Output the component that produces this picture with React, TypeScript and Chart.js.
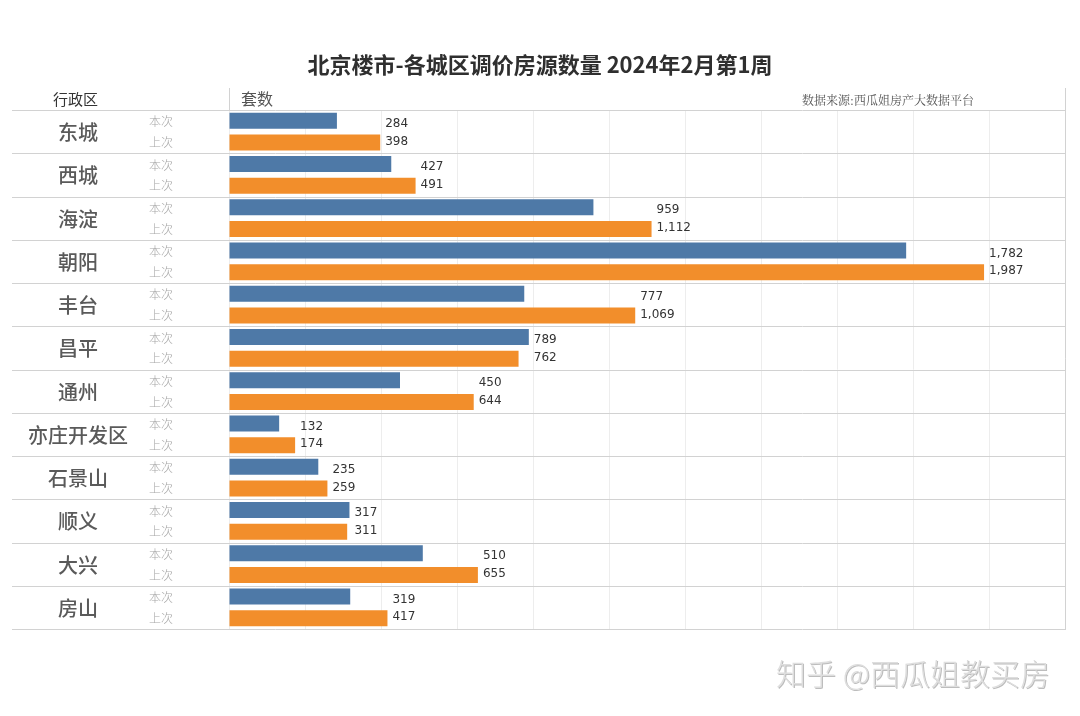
import React, { useEffect, useRef } from "react";
import { Chart, registerables } from "chart.js";

Chart.register(...registerables);

const districts = ["东城", "西城", "海淀", "朝阳", "丰台", "昌平", "通州", "亦庄开发区", "石景山", "顺义", "大兴", "房山"];
const currentWeek = [284, 427, 959, 1782, 777, 789, 450, 132, 235, 317, 510, 319];
const previousWeek = [398, 491, 1112, 1987, 1069, 762, 644, 174, 259, 311, 655, 417];
const seriesNames = ["本次", "上次"];
const titleText = "北京楼市-各城区调价房源数量 2024年2月第1周";
const headerLeft = "行政区";
const headerMeasure = "套数";
const sourceText = "数据来源:西瓜姐房产大数据平台";
const watermarkText = "知乎 @西瓜姐教买房";

const CJK = "'Noto Sans CJK SC', 'Noto Sans', sans-serif";

const decorPlugin = {
  id: "decor",
  afterDraw(chart: any) {
    const ctx = chart.ctx as CanvasRenderingContext2D;
    const area = chart.chartArea;
    const n = districts.length;
    const rowH = (area.bottom - area.top) / n;
    const leftEdge = 12;
    const rightEdge = area.right;
    const headerTop = area.top - 22;

    ctx.save();
    // title
    ctx.fillStyle = "#2f2f2f";
    ctx.font = `bold 22px ${CJK}`;
    ctx.textAlign = "center";
    ctx.textBaseline = "middle";
    ctx.fillText(titleText, 540, 65);

    // header
    ctx.fillStyle = "#333";
    ctx.font = `15px ${CJK}`;
    ctx.textAlign = "left";
    ctx.fillText(headerLeft, 53, 99);
    ctx.fillStyle = "#555";
    ctx.font = `16px ${CJK}`;
    ctx.fillText(headerMeasure, 241, 99);
    ctx.fillStyle = "#555";
    ctx.font = `12px 'Noto Serif CJK SC', ${CJK}`;
    ctx.textAlign = "right";
    ctx.fillText(sourceText, 974, 100);

    // lines
    ctx.strokeStyle = "#d2d2d2";
    ctx.lineWidth = 1;
    for (let i = 0; i <= n; i++) {
      const y = Math.round(area.top + i * rowH) + 0.5;
      ctx.beginPath();
      ctx.moveTo(leftEdge, y);
      ctx.lineTo(rightEdge + 1, y);
      ctx.stroke();
    }
    ctx.beginPath();
    ctx.moveTo(Math.round(area.left) + 0.5, headerTop);
    ctx.lineTo(Math.round(area.left) + 0.5, area.top);
    ctx.stroke();
    ctx.beginPath();
    ctx.moveTo(Math.round(rightEdge) + 0.5, headerTop);
    ctx.lineTo(Math.round(rightEdge) + 0.5, area.bottom);
    ctx.stroke();

    // row labels
    const m0 = chart.getDatasetMeta(0);
    const m1 = chart.getDatasetMeta(1);
    const xScale = chart.scales.x;
    for (let i = 0; i < n; i++) {
      const cy = area.top + (i + 0.5) * rowH;
      ctx.fillStyle = "#5a5a5a";
      ctx.font = `500 20px ${CJK}`;
      ctx.textAlign = "center";
      ctx.textBaseline = "middle";
      ctx.fillText(districts[i], 78, cy + 1);

      const b0 = m0.data[i];
      const b1 = m1.data[i];
      ctx.fillStyle = "#a8a8a8";
      ctx.font = `300 12px ${CJK}`;
      ctx.fillText(seriesNames[0], 161, b0.y + 1);
      ctx.fillText(seriesNames[1], 161, b1.y);

      const maxV = Math.max(currentWeek[i], previousWeek[i]);
      const lx = xScale.getPixelForValue(maxV) + 5;
      ctx.fillStyle = "#333";
      ctx.font = "12px 'DejaVu Sans', sans-serif";
      ctx.textAlign = "left";
      ctx.fillText(currentWeek[i].toLocaleString("en-US"), lx, b0.y + 3);
      ctx.fillText(previousWeek[i].toLocaleString("en-US"), lx, b1.y - 1);
    }

    // watermark
    ctx.font = `300 30px ${CJK}`;
    ctx.textAlign = "right";
    ctx.textBaseline = "middle";
    ctx.fillStyle = "#bdbdbd";
    ctx.fillText(watermarkText, 1051, 675);
    ctx.fillStyle = "#dedede";
    ctx.fillText(watermarkText, 1050, 674);
    ctx.restore();
  },
};

export default function App() {
  const ref = useRef<HTMLCanvasElement | null>(null);
  useEffect(() => {
    document.body.style.margin = "0";
    const canvas = ref.current;
    if (!canvas) return;
    const chart = new Chart(canvas, {
      type: "bar",
      data: {
        labels: districts,
        datasets: [
          {
            label: seriesNames[0],
            data: currentWeek,
            backgroundColor: "#4e79a7",
            categoryPercentage: 1,
            barPercentage: 0.74,
          },
          {
            label: seriesNames[1],
            data: previousWeek,
            backgroundColor: "#f28e2b",
            categoryPercentage: 1,
            barPercentage: 0.74,
          },
        ],
      },
      options: {
        indexAxis: "y",
        responsive: false,
        animation: false,
        layout: { padding: { left: 229, right: 15, top: 110, bottom: 87 } },
        plugins: { legend: { display: false }, tooltip: { enabled: false } },
        scales: {
          x: {
            min: 0,
            max: 2200,
            ticks: { display: false, stepSize: 200 },
            grid: { color: "#ededed", drawTicks: false },
            border: { display: false },
          },
          y: { display: false },
        },
      },
      plugins: [decorPlugin],
    } as any);
    return () => chart.destroy();
  }, []);
  return (
    <div style={{ position: "absolute", left: 0, top: 0, width: 1080, height: 716, background: "#fff" }}>
      <canvas ref={ref} width={1080} height={716} />
    </div>
  );
}
